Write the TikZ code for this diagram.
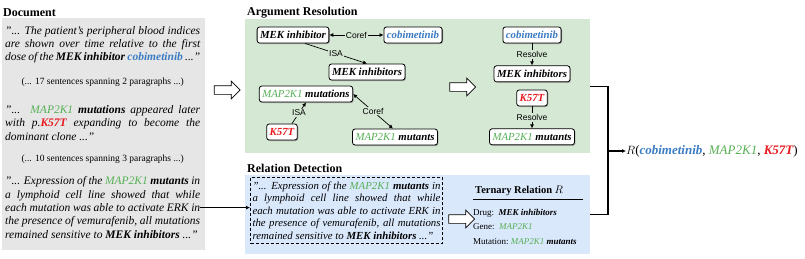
\documentclass[tikz,border=0pt]{standalone}
\usepackage{fontspec}
\setmainfont{Liberation Serif}
\setsansfont{Liberation Sans}
\usetikzlibrary{arrows.meta, positioning, shapes.arrows, shadows}
\definecolor{docGray}{HTML}{E6E6E6}
\definecolor{argGreen}{HTML}{D5E8D4}
\definecolor{relBlue}{HTML}{DAE8FC}
\definecolor{cobiBlue}{HTML}{3B7CC4}
\definecolor{mapGreen}{HTML}{55B055}
\definecolor{kRed}{HTML}{E8191E}
\newcommand{\cobi}{\textcolor{cobiBlue}{\textbf{cobimetinib}}}
\newcommand{\mapk}{\textcolor{mapGreen}{\mdseries MAP2K1}}
\newcommand{\kst}{\textcolor{kRed}{\textbf{K57T}}}
\hyphenpenalty=10000

\begin{document}
\begin{tikzpicture}[x=1pt, y=-1pt,
  title/.style={anchor=base west, inner sep=0, font=\fontsize{12}{14}\selectfont\bfseries},
  panel/.style={anchor=north west, inner sep=0, draw=none},
  doctext/.style={anchor=north west, inner sep=0, text width=195pt, align=justify,
                  font=\fontsize{11.5}{13.3}\selectfont\itshape},
  gapnote/.style={inner sep=0, font=\fontsize{9.5}{11}\selectfont},
  ent/.style={draw, line width=0.8pt, rounded corners=2.5pt, fill=white,
              minimum height=16pt, inner xsep=3pt, inner ysep=1pt,
              font=\fontsize{10.8}{12}\selectfont\bfseries\itshape,
              drop shadow={shadow xshift=1pt, shadow yshift=-1pt, fill=black!60, opacity=0.5}},
  rel/.style={inner sep=1pt, fill=argGreen, font=\sffamily\fontsize{8.5}{10}\selectfont},
  link/.style={-{Latex[length=4pt, width=4pt]}, line width=0.7pt},
  corefl/.style={{Latex[length=4pt, width=4pt]}-{Latex[length=4pt, width=4pt]}, line width=0.7pt},
  hollow/.style={single arrow, draw, fill=white, line width=0.7pt, inner xsep=0pt, inner ysep=4pt,
                 minimum height=26pt, single arrow head extend=4.5pt},
  quote/.style={draw, dashed, dash pattern=on 3pt off 2pt, line width=1pt, text width=188pt,
                align=justify, inner xsep=2pt, inner ysep=4pt,
                font=\fontsize{10.8}{12.5}\selectfont\itshape},
  tern/.style={anchor=base west, inner sep=0, font=\fontsize{9}{11}\selectfont}
]
\useasboundingbox (0,0) rectangle (805,258);

% panels
\node[panel, fill=docGray, minimum width=203pt, minimum height=232pt] (docpanel) at (2,18) {};
\node[panel, fill=argGreen, minimum width=345pt, minimum height=134pt] (argpanel) at (245,19) {};
\node[panel, fill=relBlue, minimum width=345pt, minimum height=79pt] (relpanel) at (245,175) {};

\node[title] (doctitle) at (3,16) {Document};
\node[title] (argtitle) at (247,15) {Argument Resolution};
\node[title] (reltitle) at (247,172) {Relation Detection};

% document text
\node[doctext] (p1) at (5,26) {"... The patient's peripheral blood indices\linebreak are shown over time relative to the first\linebreak dose of the \textbf{MEK inhibitor} \cobi{} ..."};
\node[gapnote, below=14pt of p1] (gap1) {(... 17 sentences spanning 2 paragraphs ...)};
\node[doctext, below=19pt of gap1.south -| p1.west, anchor=north west] (p2) {"... \mapk{} \textbf{mutations} appeared later\linebreak with p.\kst{} expanding to become the\linebreak dominant clone ..."};
\node[gapnote, below=14pt of p2.south -| gap1] (gap2) {(... 10 sentences spanning 3 paragraphs ...)};
\node[doctext, below=13pt of gap2.south -| p1.west, anchor=north west] (p3) {"... Expression of the \mapk{} \textbf{mutants} in\linebreak a lymphoid cell line showed that while\linebreak each mutation was able to activate ERK in\linebreak the presence of vemurafenib, all mutations\linebreak remained sensitive to \textbf{MEK inhibitors} ..."};

\node[hollow] (toarg) at (225,90) {};

% argument resolution
\node[ent] (mekA) at (293,35) {MEK inhibitor};
\node[ent] (cobiA) at (413,35) {\cobi};
\node[ent] (mekB) at (367,72) {MEK inhibitors};
\node[ent] (mutA) at (306,94) {\mapk{} mutations};
\node[ent] (kA) at (282,132) {\kst};
\node[ent] (mutB) at (395,137) {\mapk{} mutants};

\draw[corefl] (mekA) -- node[rel]{Coref} (cobiA);
\draw[link] ([xshift=12pt]mekA.south) -- node[rel]{ISA} (mekB.north);
\draw[link] ([xshift=10pt]kA.north) -- node[rel]{ISA} (mutA.south);
\draw[corefl] (mutA.east) -- node[rel]{Coref} ([xshift=-2pt]mutB.north);

\node[hollow] (toresolved) at (460.5,87) {};

\node[ent] (cobiR) at (532,35) {\cobi};
\node[ent, below=22pt of cobiR] (mekR) {MEK inhibitors};
\node[ent] (kR) at (532,98) {\kst};
\node[ent, below=22pt of kR] (mutR) {\mapk{} mutants};
\draw[link] (cobiR) -- node[rel]{Resolve} (mekR);
\draw[link] (kR) -- node[rel]{Resolve} (mutR);

% relation detection
\node[quote, anchor=north west] (quote) at (250,177) {"... Expression of the \mapk{} \textbf{mutants} in\linebreak a lymphoid cell line showed that while\linebreak each mutation was able to activate ERK in\linebreak the presence of vemurafenib, all mutations\linebreak remained sensitive to \textbf{MEK inhibitors} ..."};
\draw[link, line width=1pt] (p3.east) -- (p3.east -| quote.west);

\node[hollow] (toternary) at (459.5,219) {};

\node[anchor=base west, inner sep=0, font=\fontsize{10.5}{12}\selectfont\bfseries] (ternTitle) at (475,193) {Ternary Relation $R$};
\draw[line width=0.9pt] ([xshift=-2pt, yshift=-6pt]ternTitle.base west) -- ([xshift=108pt, yshift=-6pt]ternTitle.base west);
\node[tern] (drug) at (473,215) {Drug:~~\textbf{\textit{MEK inhibitors}}};
\node[tern] (gene) at (473,229) {Gene:~~\textit{\mapk}};
\node[tern] (mut) at (473,244) {Mutation:~\textbf{\textit{\mapk{} mutants}}};

% result
\node[anchor=west, inner sep=0, font=\fontsize{13}{15}\selectfont] (result) at (626,151) {$R$(\textit{\cobi}, \textit{\mapk}, \textit{\kst})};
\coordinate (junc) at (608,151);
\draw[line width=1.1pt] (argpanel.east) -| (junc) |- (relpanel.east);
\draw[link, line width=1.1pt] (junc) -- (result.west);
\end{tikzpicture}
\end{document}
